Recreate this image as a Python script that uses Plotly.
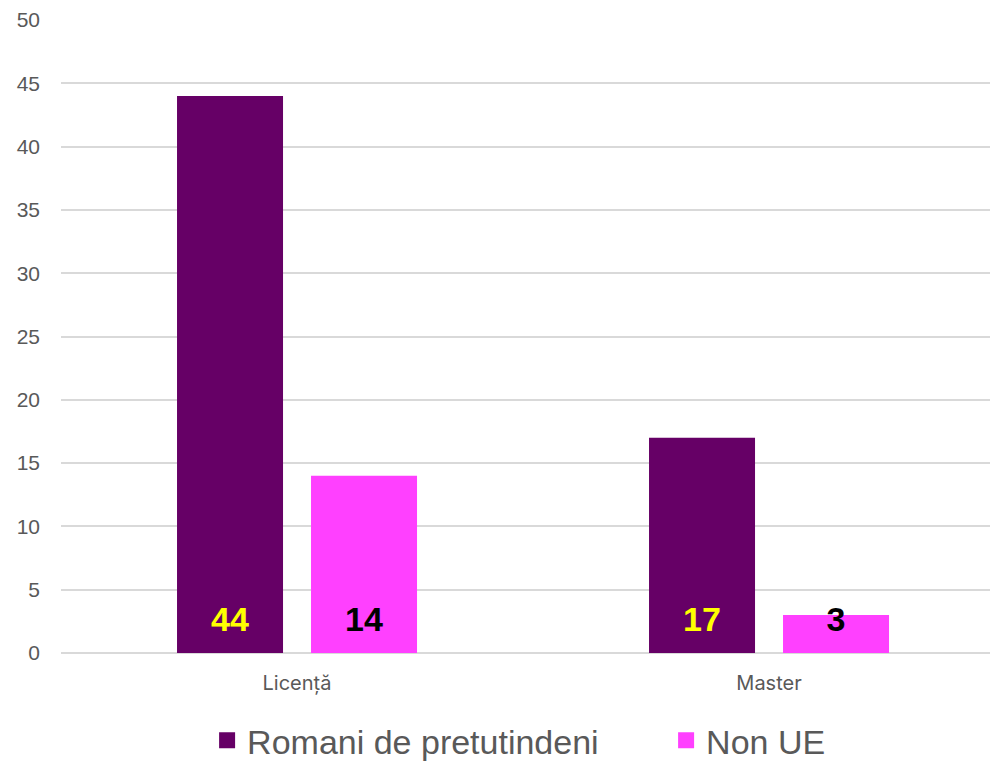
import plotly.graph_objects as go

categories = ["Licență", "Master"]
series_names = ["Romani de pretutindeni", "Non UE"]
romani = [44, 17]
non_ue = [14, 3]
y_ticks = [0, 5, 10, 15, 20, 25, 30, 35, 40, 45, 50]

colors = ["#660066", "#FF40FF"]
label_colors = ["#FFFF00", "#000000"]
bar_w = 0.2246
offsets = [-0.2542, 0.0297]
xs = list(range(len(categories)))

fig = go.Figure()
for vals, name, col, off in zip([romani, non_ue], series_names, colors, offsets):
    fig.add_trace(go.Bar(x=xs, y=vals, name=name, marker=dict(color=col, line=dict(width=0)),
                         width=bar_w, offset=off, hoverinfo="y", showlegend=False))
for vals, lc, off in zip([romani, non_ue], label_colors, offsets):
    fig.add_trace(go.Scatter(x=[x + off + bar_w / 2 for x in xs], y=[2.4] * len(xs),
                             mode="text", text=[str(v) for v in vals], showlegend=False,
                             textfont=dict(family="Liberation Sans", size=34, color=lc, weight="bold"),
                             hoverinfo="skip"))
# legend entries
for name, col in zip(series_names, colors):
    fig.add_trace(go.Scatter(x=[None], y=[None], mode="markers", name=name,
                             marker=dict(symbol="square", size=20, color=col)))

fig.update_layout(
    width=998, height=753, barmode="overlay",
    margin=dict(l=53, r=1, t=12, b=108),
    plot_bgcolor="white", paper_bgcolor="white",
    xaxis=dict(range=[-0.5, 1.5], tickvals=xs, ticktext=categories, showgrid=False,
               zeroline=False, showline=False, ticklabelstandoff=16,
               tickfont=dict(family="Inter", size=20, color="#595959")),
    yaxis=dict(range=[0, 50], tickvals=y_ticks, showgrid=True, gridcolor="#D9D9D9", gridwidth=1.5,
               zeroline=True, zerolinecolor="#D9D9D9", zerolinewidth=1.5, ticklabelstandoff=20,
               tickfont=dict(family="Liberation Sans", size=21, color="#595959")),
    legend=dict(orientation="h", xref="container", yref="container", x=0.1995, xanchor="left",
                y=0.027, yanchor="middle", entrywidth=414, entrywidthmode="pixels",
                font=dict(family="Liberation Sans", size=34, color="#595959"),
                itemsizing="trace", traceorder="normal"),
    showlegend=True,
)
fig.write_html("out.html")
